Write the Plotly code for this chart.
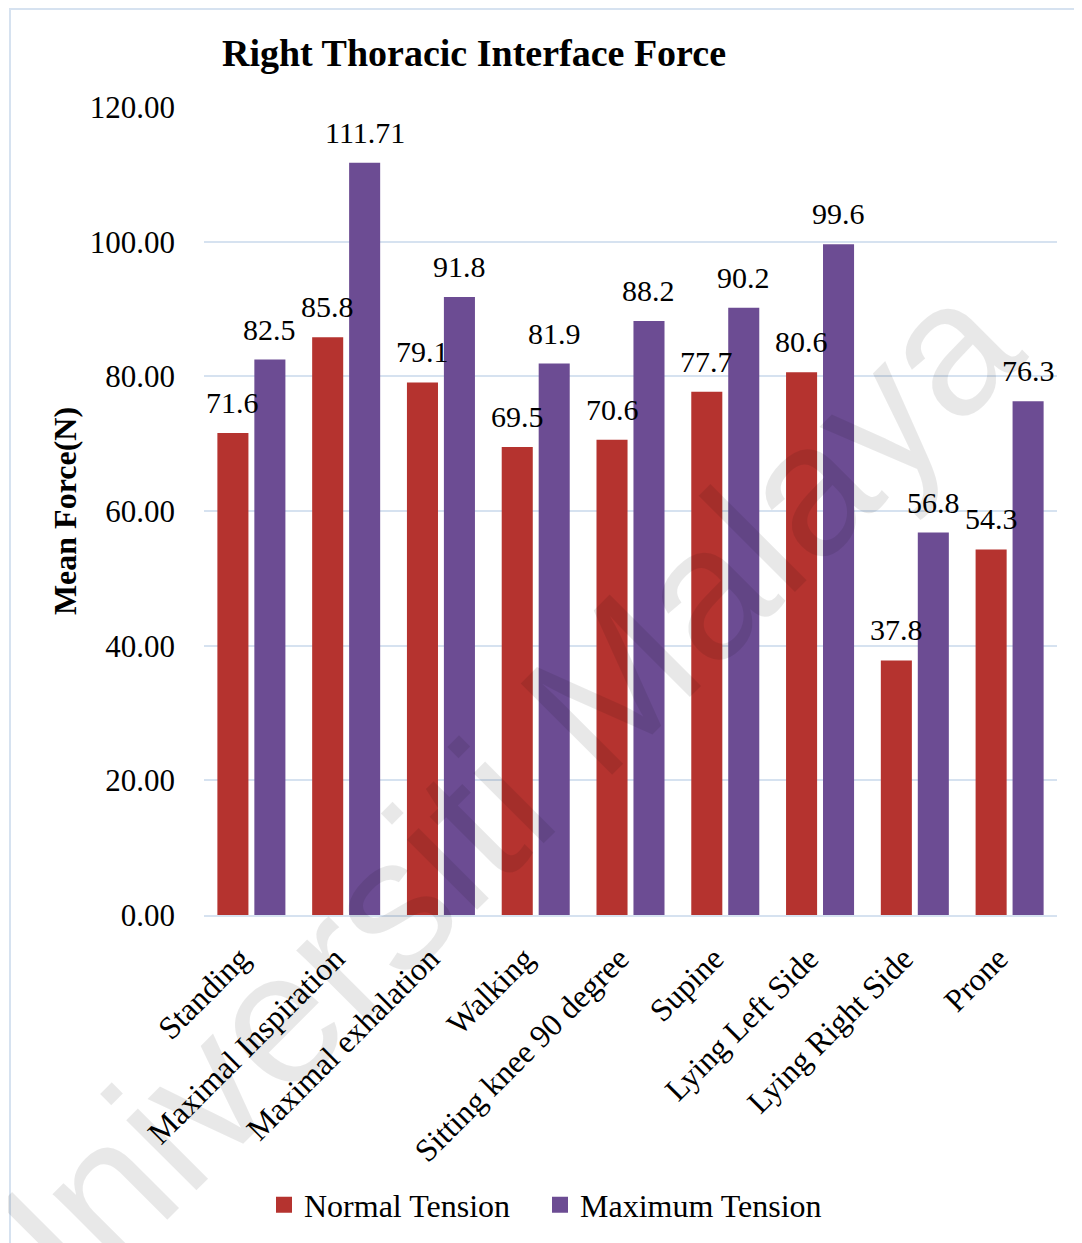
import plotly.graph_objects as go

categories = ["Standing", "Maximal Inspiration", "Maximal exhalation", "Walking",
              "Sitting knee 90 degree", "Supine", "Lying Left Side",
              "Lying Right Side", "Prone"]
normal_tension = [71.6, 85.8, 79.1, 69.5, 70.6, 77.7, 80.6, 37.8, 54.3]
maximum_tension = [82.5, 111.71, 91.8, 81.9, 88.2, 90.2, 99.6, 56.8, 76.3]
normal_labels = ["71.6", "85.8", "79.1", "69.5", "70.6", "77.7", "80.6", "37.8", "54.3"]
maximum_labels = ["82.5", "111.71", "91.8", "81.9", "88.2", "90.2", "99.6", "56.8", "76.3"]
y_ticks = [0, 20, 40, 60, 80, 100, 120]

# page has an 8px body margin; figure sized to fill the rest of the window
OFF = 8
W, H = 1082 - OFF, 1243 - OFF
L, R, T, B = 204 - OFF, 25, 107 - OFF, 328
PW, PH = W - L - R, H - T - B

def px(xp):  # reference-image x pixel -> paper x
    return (xp - OFF - L) / PW

def py(yp):  # reference-image y pixel -> paper y
    return (H - B - (yp - OFF)) / PH

FONT = "Liberation Serif, Times New Roman, serif"
RED = "#B5332F"
PURPLE = "#6C4C93"
BARGAP, GROUPGAP = 0.22, 0.16

fig = go.Figure()
fig.add_trace(go.Bar(x=categories, y=normal_tension, name="Normal Tension",
                     marker=dict(color=RED, line=dict(width=0)), showlegend=False))
fig.add_trace(go.Bar(x=categories, y=maximum_tension, name="Maximum Tension",
                     marker=dict(color=PURPLE, line=dict(width=0)), showlegend=False))
# legend entries (square swatches)
fig.add_trace(go.Scatter(x=[None], y=[None], mode="markers", name="Normal Tension",
                         marker=dict(symbol="square", size=16, color=RED),
                         legend="legend"))
fig.add_trace(go.Scatter(x=[None], y=[None], mode="markers", name="Maximum Tension",
                         marker=dict(symbol="square", size=16, color=PURPLE),
                         legend="legend2"))

# value labels above bars
cat_w = PW / len(categories)
slot = cat_w * (1 - BARGAP) / 2
for series, labels, sign in ((normal_tension, normal_labels, -1),
                             (maximum_tension, maximum_labels, 1)):
    for c, v, t in zip(categories, series, labels):
        fig.add_annotation(x=c, y=v, xref="x", yref="y", text=t, showarrow=False,
                           xanchor="center", yanchor="bottom",
                           xshift=sign * slot / 2, yshift=12,
                           font=dict(family=FONT, size=30, color="black"))

legend_style = dict(orientation="h", xanchor="left", yanchor="middle",
                    y=py(1205), font=dict(family=FONT, size=32),
                    itemsizing="trace", bgcolor="rgba(0,0,0,0)")

fig.update_layout(
    width=W, height=H,
    margin=dict(l=L, r=R, t=T, b=B, autoexpand=False),
    paper_bgcolor="white", plot_bgcolor="white",
    font=dict(family=FONT, size=30, color="black"),
    barmode="group", bargap=BARGAP, bargroupgap=GROUPGAP,
    title=dict(text="<b>Right Thoracic Interface Force</b>",
               font=dict(family=FONT, size=38, color="black"),
               x=(474 - OFF) / W, xanchor="center", xref="container",
               y=1 - (53 - OFF) / H, yanchor="middle", yref="container"),
    xaxis=dict(tickangle=-45, tickfont=dict(family=FONT, size=32),
               showgrid=False, showline=True, linecolor="#D6E2F0", linewidth=2,
               ticks="", ticklabelstandoff=10, ticklabelshift=-11,
               automargin=False),
    yaxis=dict(range=[0, 120], tickvals=y_ticks, tickformat=".2f",
               tickfont=dict(family=FONT, size=31),
               showgrid=True, gridcolor="#D6E2F0", gridwidth=2,
               zeroline=False, showline=False, ticks="",
               ticklabelstandoff=28,
               title=dict(text="<b>Mean Force(N)</b>",
                          font=dict(family=FONT, size=32), standoff=3),
               automargin=False),
    legend=dict(x=px(264), **legend_style),
    legend2=dict(x=px(540), **legend_style),
    showlegend=True,
)

# chart border
fig.add_shape(type="rect", xref="paper", yref="paper",
              x0=px(10), x1=px(1100), y0=py(1260), y1=py(9),
              line=dict(color="#D6E2F0", width=2), fillcolor="rgba(0,0,0,0)",
              layer="below")

# watermark
fig.add_annotation(text="Universiti Malaya", xref="paper", yref="paper",
                   x=px(478), y=py(817), xanchor="center", yanchor="middle",
                   showarrow=False, textangle=-45,
                   font=dict(family="Liberation Sans, Arial, sans-serif", size=188,
                             color="rgba(0,0,0,0.09)"))

fig.write_html("out.html")
